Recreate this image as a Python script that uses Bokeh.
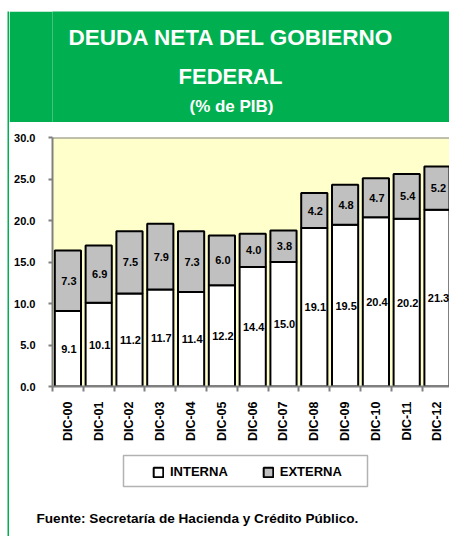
import math
from bokeh.plotting import figure
from bokeh.models import (Range1d, FixedTicker, PrintfTickFormatter, ColumnDataSource,
                          Span, Legend, LegendItem, BoxAnnotation, Title, Spacer)
from bokeh.layouts import row, column
from bokeh.embed import file_html
from bokeh.resources import INLINE
from bokeh.core.properties import value

# ---------------- data ----------------
categories = ["DIC-00", "DIC-01", "DIC-02", "DIC-03", "DIC-04", "DIC-05", "DIC-06",
              "DIC-07", "DIC-08", "DIC-09", "DIC-10", "DIC-11", "DIC-12"]
interna = [9.1, 10.1, 11.2, 11.7, 11.4, 12.2, 14.4, 15.0, 19.1, 19.5, 20.4, 20.2, 21.3]
externa = [7.3, 6.9, 7.5, 7.9, 7.3, 6.0, 4.0, 3.8, 4.2, 4.8, 4.7, 5.4, 5.2]
y_ticks = [0, 5, 10, 15, 20, 25, 30]
title_lines = ["DEUDA NETA DEL GOBIERNO", "FEDERAL", "(% de PIB)"]
legend_labels = ["INTERNA", "EXTERNA"]
source_note = "Fuente: Secretaría de Hacienda y Crédito Público."

FONT = "Liberation Sans"
GREEN = "#00B050"
YELLOW = "#FFFFCC"
GREY = "#C0C0C0"
AXIS_GREY = "#808080"

common = dict(output_backend="svg", toolbar_location=None)
W = 440          # width of the right-hand column
LEFT = 43        # shared left border (frames line up)

# ---------------- left green strip ----------------
strip = figure(width=2, height=536, x_axis_type=None, y_axis_type=None,
               min_border_left=0, min_border_right=0, min_border_top=11, min_border_bottom=0,
               background_fill_color=GREEN, border_fill_color="white",
               outline_line_color=None, **common)

# ---------------- header ----------------
header = figure(width=W, height=111, x_range=Range1d(0, W - LEFT), y_range=Range1d(0, 111),
                x_axis_type=None, y_axis_type=None,
                min_border_left=LEFT, min_border_right=0, min_border_top=0, min_border_bottom=0,
                background_fill_color=GREEN, border_fill_color=GREEN,
                outline_line_color=None, **common)
hsrc = ColumnDataSource(dict(x=[179, 178, 179], y=[85, 46, 16], text=title_lines,
                             size=["22.5px", "22px", "17px"]))
header.text(x="x", y="y", text="text", source=hsrc, text_font=value(FONT),
            text_font_style="bold", text_color="white", text_font_size="size",
            text_align="center", text_baseline="alphabetic")

# ---------------- main chart ----------------
xs = [i + 0.5 for i in range(len(categories))]
src = ColumnDataSource(dict(
    x=xs, interna=interna, externa=externa,
    y_int=[v / 2 for v in interna],
    y_ext=[a + b / 2 for a, b in zip(interna, externa)],
    t_int=["%.1f" % v for v in interna],
    t_ext=["%.1f" % v for v in externa],
))

main = figure(width=W, height=323, x_range=Range1d(0, 12.89), y_range=Range1d(0, 30),
              min_border_left=LEFT, min_border_right=0, min_border_top=15, min_border_bottom=59,
              background_fill_color=YELLOW, border_fill_color="white",
              outline_line_color=None, **common)
main.grid.visible = False

bars = main.vbar_stack(["interna", "externa"], x="x", width=0.85, source=src,
                       fill_color=["white", GREY], line_color="black", line_width=2)

main.text(x="x", y="y_int", text="t_int", source=src, text_font=value(FONT),
          text_font_style="bold", text_font_size="11px", text_color="black",
          text_align="center", text_baseline="middle", x_offset=1)
main.text(x="x", y="y_ext", text="t_ext", source=src, text_font=value(FONT),
          text_font_style="bold", text_font_size="11px", text_color="black",
          text_align="center", text_baseline="middle", x_offset=1)

main.add_layout(Span(location=30, dimension="width", line_color=AXIS_GREY, line_width=2))

xa = main.xaxis[0]
xa.ticker = FixedTicker(ticks=xs, minor_ticks=list(range(len(categories))))
xa.major_label_overrides = {x: c for x, c in zip(xs, categories)}
xa.major_label_orientation = math.pi / 2
xa.major_tick_out = 0
xa.major_tick_in = 0
xa.minor_tick_out = 5
xa.minor_tick_in = 0
xa.minor_tick_line_color = AXIS_GREY
xa.minor_tick_line_width = 2
xa.axis_line_color = AXIS_GREY
xa.axis_line_width = 2
xa.major_label_standoff = 10
xa.major_label_text_font = FONT
xa.major_label_text_font_style = "bold"
xa.major_label_text_font_size = "12.5px"
xa.major_label_text_color = "black"

ya = main.yaxis[0]
ya.ticker = FixedTicker(ticks=y_ticks)
ya.formatter = PrintfTickFormatter(format="%.1f")
ya.major_tick_out = 4
ya.major_tick_in = 0
ya.minor_tick_line_color = None
ya.major_tick_line_color = AXIS_GREY
ya.major_tick_line_width = 2
ya.axis_line_color = AXIS_GREY
ya.axis_line_width = 2
ya.major_label_standoff = 13
ya.major_label_text_font = FONT
ya.major_label_text_font_style = "bold"
ya.major_label_text_font_size = "11px"
ya.major_label_text_color = "black"

# ---------------- footer (legend + source) ----------------
FOOT_BOTTOM = 34
footer = figure(width=W, height=91, x_range=Range1d(0, W - LEFT),
                y_range=Range1d(0, 91 - FOOT_BOTTOM),
                x_axis_type=None, y_axis_type=None,
                min_border_left=LEFT, min_border_right=0, min_border_top=0,
                min_border_bottom=FOOT_BOTTOM,
                background_fill_color="white", border_fill_color="white",
                outline_line_color=None, **common)
footer.add_layout(BoxAnnotation(left=71, right=315, bottom=16, top=47,
                                fill_color=None, line_color="black", line_width=1.5))
nan = float("nan")
r_int = footer.vbar(x=[nan], top=[nan], width=1, fill_color="white", line_color="black", line_width=2)
r_ext = footer.vbar(x=[nan], top=[nan], width=1, fill_color=GREY, line_color="black", line_width=2)
legend = Legend(items=[LegendItem(label=legend_labels[0], renderers=[r_int]),
                       LegendItem(label=legend_labels[1], renderers=[r_ext])],
                location=(100, 23), orientation="horizontal", padding=0, margin=0,
                spacing=34, glyph_width=12, glyph_height=12, label_height=12,
                label_standoff=6, border_line_color=None, background_fill_alpha=0,
                label_text_font=FONT, label_text_font_style="bold",
                label_text_font_size="13px", label_text_color="black",
                label_text_baseline="alphabetic")
footer.add_layout(legend)
footer.add_layout(Title(text=source_note, align="left", offset=-16, vertical_align="middle",
                        standoff=14, text_font=FONT, text_font_style="bold",
                        text_font_size="13.6px", text_color="black"), "below")

layout = row(Spacer(width=7), strip, column(Spacer(height=11), header, main, footer))

open("out.html", "w").write(file_html(layout, INLINE))
